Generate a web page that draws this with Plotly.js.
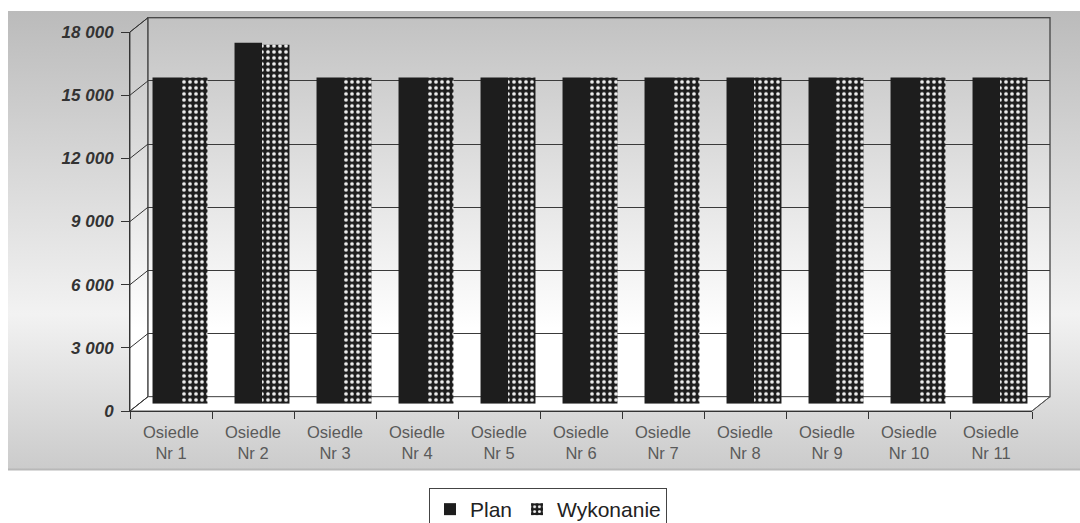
<!DOCTYPE html>
<html>
<head>
<meta charset="utf-8">
<script src="https://cdn.plot.ly/plotly-3.0.1.min.js"></script>
<style>html,body{margin:0;padding:0;background:#fff;} #chart{width:1080px;height:523px;}</style>
</head>
<body>
<div id="chart"></div>
<script>
// ---- data ----
const categories = ['Osiedle Nr 1','Osiedle Nr 2','Osiedle Nr 3','Osiedle Nr 4','Osiedle Nr 5','Osiedle Nr 6','Osiedle Nr 7','Osiedle Nr 8','Osiedle Nr 9','Osiedle Nr 10','Osiedle Nr 11'];
const tickLabels = ['Osiedle<br>Nr 1','Osiedle<br>Nr 2','Osiedle<br>Nr 3','Osiedle<br>Nr 4','Osiedle<br>Nr 5','Osiedle<br>Nr 6','Osiedle<br>Nr 7','Osiedle<br>Nr 8','Osiedle<br>Nr 9','Osiedle<br>Nr 10','Osiedle<br>Nr 11'];
const planValues = [15500, 17150, 15500, 15500, 15500, 15500, 15500, 15500, 15500, 15500, 15500];
const wykonanieValues = [15500, 17050, 15500, 15500, 15500, 15500, 15500, 15500, 15500, 15500, 15500];
const yTickValues = [0, 3000, 6000, 9000, 12000, 15000, 18000];
const yTickLabels = ['0', '3 000', '6 000', '9 000', '12 000', '15 000', '18 000'];
const seriesNames = ['Plan', 'Wykonanie'];

// ---- geometry (pixels) ----
const W = 1080, H = 523;
const front = {x0:130, x1:1032, y0:32, y1:411};
const dx = 18, dy = 14.3;
const back = {x0:front.x0+dx, x1:front.x1+dx, y0:front.y0-dy, y1:front.y1-dy};
const mid = {x0:front.x0+dx/2, x1:front.x1+dx/2, y0:front.y0-dy/2, y1:front.y1-dy/2};
const yMax = 18000;
const dom = (a,b,n)=>[a/n, b/n];
const ydom = (top,bot)=>[1-bot/H, 1-top/H];

// background (panel, walls, floor)
const svg = `<svg xmlns="http://www.w3.org/2000/svg" width="${W}" height="${H}" viewBox="0 0 ${W} ${H}">
<defs>
<linearGradient id="g1" x1="0" y1="0" x2="0" y2="1">
<stop offset="0" stop-color="#bbbbbb"/><stop offset="0.66" stop-color="#f2f2f2"/><stop offset="1" stop-color="#cbcbcb"/>
</linearGradient>
<linearGradient id="g2" gradientUnits="userSpaceOnUse" x1="0" y1="${back.y0}" x2="0" y2="${back.y1}">
<stop offset="0" stop-color="#c2c2c2"/><stop offset="0.82" stop-color="#ffffff"/><stop offset="1" stop-color="#ffffff"/>
</linearGradient>
</defs>
<rect x="8" y="11" width="${W-8}" height="459" fill="url(#g1)"/>
<rect x="8" y="468.5" width="${W-8}" height="2" fill="#b8b8b8"/>
<polygon points="${front.x0},${front.y0} ${back.x0},${back.y0} ${back.x0},${back.y1} ${front.x0},${front.y1}" fill="url(#g2)" stroke="#444" stroke-width="1"/>
<rect x="${back.x0}" y="${back.y0}" width="${back.x1-back.x0}" height="${back.y1-back.y0}" fill="url(#g2)" stroke="#444" stroke-width="1.3"/>
<polygon points="${front.x0},${front.y1} ${back.x0},${back.y1} ${back.x1},${back.y1} ${front.x1},${front.y1}" fill="#ffffff" stroke="#555" stroke-width="1"/>
</svg>`;
const bgSrc = 'data:image/svg+xml;charset=utf-8,' + encodeURIComponent(svg);

// diagonal grid connectors on the left wall
const shapes = yTickValues.map(v => {
  const yf = front.y1 - v*(front.y1-front.y0)/yMax;
  const yb = back.y1 - v*(back.y1-back.y0)/yMax;
  return {type:'line', xref:'paper', yref:'paper', layer:'above',
    x0: front.x0/W, y0: 1-yf/H, x1: back.x0/W, y1: 1-yb/H,
    line:{color:'#333', width:1}};
});
shapes.push({type:'line', xref:'paper', yref:'paper', x0:front.x1/W, y0:1-front.y1/H, x1:back.x1/W, y1:1-back.y1/H, line:{color:'#555', width:1}});

const FONT = 'Liberation Sans, Arial, sans-serif';
const nulls = categories.map(()=>null);

const traces = [
  {type:'scatter', mode:'markers', x:categories, y:nulls, xaxis:'x', yaxis:'y', showlegend:false, hoverinfo:'skip'},
  {type:'bar', name:seriesNames[0], x:categories, y:planValues, xaxis:'x2', yaxis:'y2',
   marker:{color:'#1d1d1d', line:{width:0}}, hoverinfo:'skip'},
  {type:'bar', name:seriesNames[1], x:categories, y:wykonanieValues, xaxis:'x2', yaxis:'y2',
   marker:{color:'#1d1d1d', line:{width:0},
     pattern:{shape:'.', fgcolor:'#f0f0f0', bgcolor:'#1d1d1d', size:6, solidity:0.3}}, hoverinfo:'skip'},
  {type:'scatter', mode:'markers', x:categories, y:nulls, xaxis:'x3', yaxis:'y3', showlegend:false, hoverinfo:'skip'}
];

const hiddenX = (d)=>({domain:d, type:'category', categoryarray:categories, range:[-0.5,10.5], showgrid:false, zeroline:false, showline:false, showticklabels:false, ticks:'', fixedrange:true});

const layout = {
  width:W, height:H,
  margin:{l:0, r:0, t:0, b:0, autoexpand:false},
  paper_bgcolor:'#ffffff', plot_bgcolor:'rgba(0,0,0,0)',
  barmode:'group', bargap:0.33, bargroupgap:0,
  showlegend:true,
  legend:{orientation:'h', x:548/W, xanchor:'center', y:1-488/H, yanchor:'top',
    bgcolor:'#ffffff', bordercolor:'#444', borderwidth:1,
    font:{family:FONT, size:21, color:'#222'}, traceorder:'normal', itemclick:false},
  xaxis: hiddenX(dom(back.x0, back.x1, W)),
  yaxis: {domain:ydom(back.y0, back.y1), range:[0,yMax], tickvals:yTickValues, showgrid:true, gridcolor:'#3a3a3a', gridwidth:1, zeroline:false, showline:false, showticklabels:false, ticks:'', fixedrange:true},
  xaxis2: Object.assign(hiddenX(dom(mid.x0, mid.x1, W)), {anchor:'y2'}),
  yaxis2: {domain:ydom(mid.y0, mid.y1), anchor:'x2', range:[0,yMax], showgrid:false, zeroline:false, showline:false, showticklabels:false, ticks:'', fixedrange:true},
  xaxis3: {domain:dom(front.x0, front.x1, W), anchor:'y3', type:'category', categoryarray:categories, range:[-0.5,10.5],
    tickvals:categories, ticktext:tickLabels, tickson:'boundaries', ticks:'outside', ticklen:7, tickcolor:'#333', tickwidth:1,
    showline:true, linecolor:'#333', linewidth:1, showgrid:false, zeroline:false, ticklabelstandoff:6,
    tickfont:{family:FONT, size:16.5, color:'#5a5a5a'}, fixedrange:true},
  yaxis3: {domain:ydom(front.y0, front.y1), anchor:'x3', range:[0,yMax], tickvals:yTickValues, ticktext:yTickLabels,
    ticks:'outside', ticklen:8, tickcolor:'#333', tickwidth:1, showline:true, linecolor:'#333', linewidth:1,
    showgrid:false, zeroline:false, ticklabelstandoff:4,
    tickfont:{family:FONT, size:17, color:'#333', weight:'bold', style:'italic'}, fixedrange:true},
  images:[{source:bgSrc, xref:'paper', yref:'paper', x:0, y:1, sizex:1, sizey:1, xanchor:'left', yanchor:'top', sizing:'stretch', layer:'below'}],
  shapes: shapes
};

Plotly.newPlot('chart', traces, layout, {staticPlot:true, displayModeBar:false});
</script>
</body>
</html>
